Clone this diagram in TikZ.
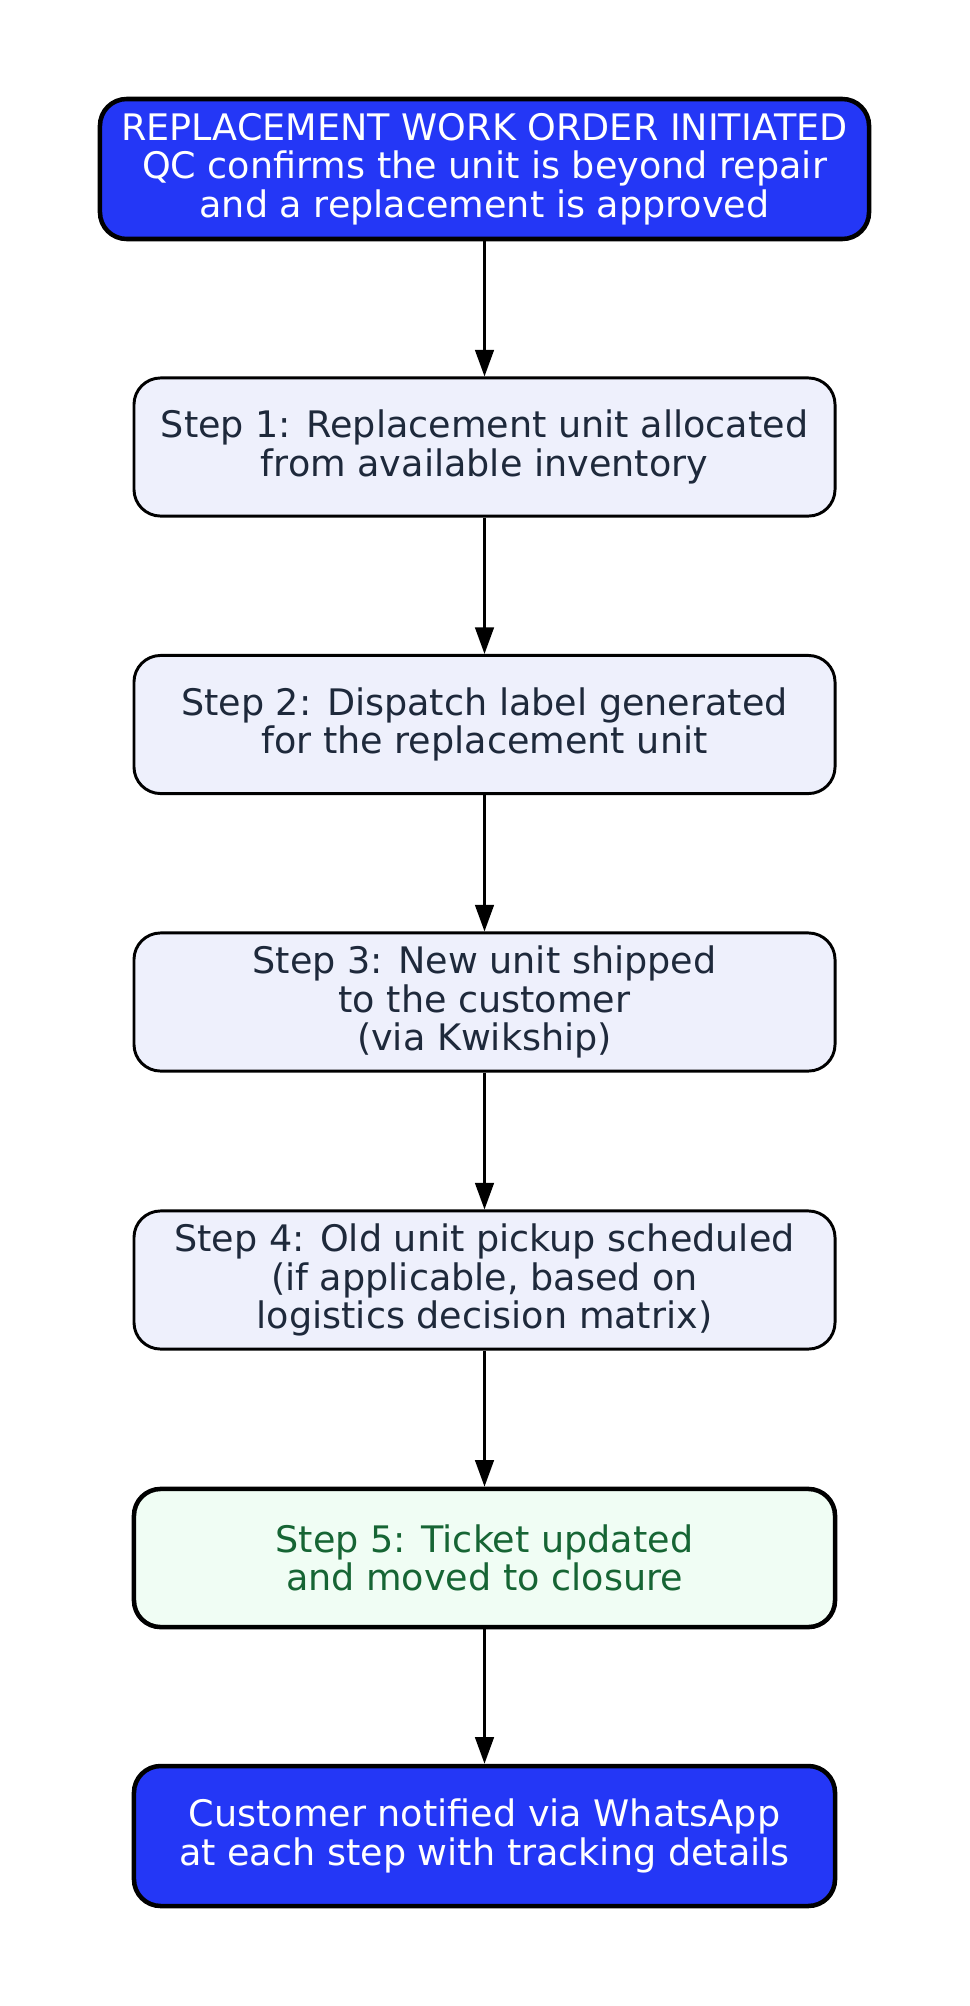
\documentclass[tikz,border=0pt]{standalone}
\usepackage{fontspec}
\setmainfont{DejaVu Sans}
\usetikzlibrary{arrows.meta}
\definecolor{orderblue}{HTML}{2437F6}
\definecolor{steplav}{HTML}{EEF0FC}
\definecolor{stepink}{HTML}{1E293B}
\definecolor{closegreen}{HTML}{F0FDF4}
\definecolor{closeink}{HTML}{166534}
\tikzset{
  stepbox/.style={draw=black, line width=1.1pt, rounded corners=10pt, fill=steplav,
    text=stepink, align=center, minimum width=262.9pt, minimum height=51.8pt,
    inner sep=0pt, font=\fontsize{13.7}{14.4}\selectfont},
  bluebox/.style={stepbox, line width=1.7pt, fill=orderblue, text=white},
  closebox/.style={stepbox, line width=1.7pt, fill=closegreen, text=closeink},
  flow/.style={-{Triangle[length=10pt,width=7pt]}, line width=1pt, black}
}
\begin{document}
\begin{tikzpicture}[x=0.375pt, y=0.375pt]
    \useasboundingbox (0,0) rectangle (969,-2006);

    %start of the work order
    \node[bluebox, minimum width=288.4pt, minimum height=52.5pt] (init) at (484.5,-169)
      {REPLACEMENT WORK ORDER INITIATED\\QC confirms the unit is beyond repair\\and a replacement is approved};

    %steps
    \node[stepbox] (s1) at (484.5,-447) {Step 1: Replacement unit allocated\\from available inventory};
    \node[stepbox] (s2) at (484.5,-724.5) {Step 2: Dispatch label generated\\for the replacement unit};
    \node[stepbox] (s3) at (484.5,-1002) {Step 3: New unit shipped\\to the customer\\(via Kwikship)};
    \node[stepbox] (s4) at (484.5,-1280) {Step 4: Old unit pickup scheduled\\(if applicable, based on\\logistics decision matrix)};
    \node[closebox] (s5) at (484.5,-1558) {Step 5: Ticket updated\\and moved to closure};

    %notification
    \node[bluebox, minimum height=52.5pt] (notify) at (484.5,-1836)
      {Customer notified via WhatsApp\\at each step with tracking details};

    %arrows
    \draw[flow] (init) -- (s1);
    \draw[flow] (s1) -- (s2);
    \draw[flow] (s2) -- (s3);
    \draw[flow] (s3) -- (s4);
    \draw[flow] (s4) -- (s5);
    \draw[flow] (s5) -- (notify);

\end{tikzpicture}
\end{document}
